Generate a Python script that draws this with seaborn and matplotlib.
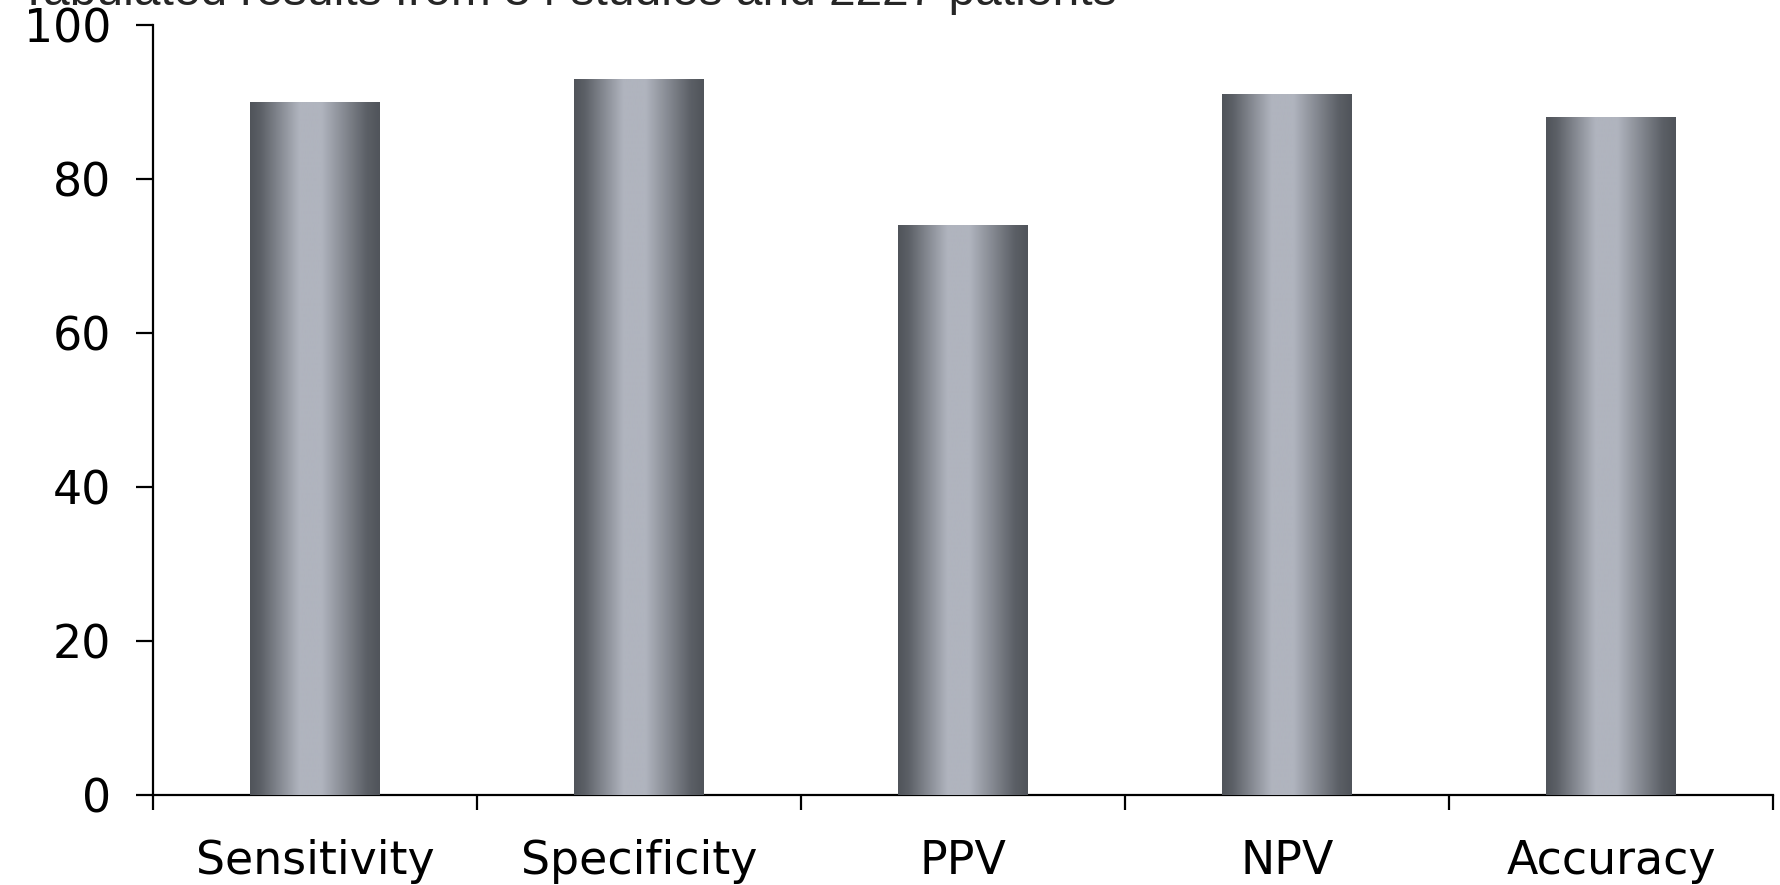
import numpy as np
import pandas as pd
import seaborn as sns
import matplotlib
matplotlib.use("Agg")
import matplotlib.pyplot as plt

# data
metrics = ["Sensitivity", "Specificity", "PPV", "NPV", "Accuracy"]
values = [90, 93, 74, 91, 88]
yticks = [0, 20, 40, 60, 80, 100]
title = "Tabulated results from 34 studies and 2227 patients"

sns.set_style("white")
plt.rcParams["font.family"] = ["DejaVu Sans"]

df = pd.DataFrame({"metric": metrics, "value": values})

fig = plt.figure(figsize=(17.81, 8.85), dpi=100)
ax = fig.add_axes([0.0859, 0.1017, 0.9096, 0.8701])

sns.barplot(data=df, x="metric", y="value", color="#8a8e96", width=0.4,
            ax=ax, saturation=1)

# metallic gradient fill, dark edges and light middle
xs = np.linspace(0, 1, 256)
t = np.interp(xs, [0, 0.08, 0.38, 0.55, 0.9, 1], [0, 0.12, 1, 1, 0.12, 0])
dark = np.array([80, 84, 90]) / 255
light = np.array([176, 180, 190]) / 255
grad = (dark[None, :] + (light - dark)[None, :] * t[:, None])[None, :, :]

for p in ax.patches:
    x0, y0 = p.get_x(), p.get_y()
    w, h = p.get_width(), p.get_height()
    p.set_edgecolor("none")
    im = ax.imshow(grad, extent=[x0, x0 + w, y0, y0 + h], aspect="auto",
                   interpolation="bilinear", zorder=3)
    im.set_clip_path(p)

ax.set_xlim(-0.5, len(metrics) - 0.5)
ax.set_ylim(0, 100)
ax.set_yticks(yticks)
ax.set_xlabel("")
ax.set_ylabel("")

sns.despine(ax=ax)
for s in ["left", "bottom"]:
    ax.spines[s].set_color("black")
    ax.spines[s].set_linewidth(1.6)

ax.tick_params(axis="y", direction="out", length=12, width=1.6,
               pad=18, labelsize=33, colors="black", left=True)
ax.tick_params(axis="x", which="major", length=0, pad=32, labelsize=33,
               colors="black")
ax.set_xticks(np.arange(-0.5, len(metrics), 1.0), minor=True)
ax.tick_params(axis="x", which="minor", direction="out", length=11,
               width=1.6, bottom=True, color="black")

fig.text(0.0107, 1 - 5 / 885, title, fontsize=34.5, va="baseline", ha="left",
         family=["Liberation Sans", "DejaVu Sans"])

fig.savefig("out.png", dpi=100)
